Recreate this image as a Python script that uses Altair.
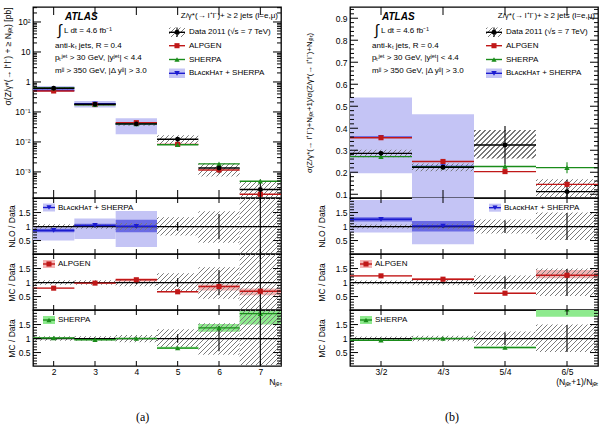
import math
import altair as alt
import pandas as pd

# ======================= (a) inclusive cross sections vs N_jet =======================
njet = [2, 3, 4, 5, 6, 7]
data_a = [0.62, 0.18, 0.040, 0.0123, 0.00135, 0.00026]
data_a_stat_lo = [0.60, 0.175, 0.038, 0.0105, 0.00091, 0.0001]
data_a_stat_hi = [0.64, 0.185, 0.042, 0.0141, 0.0020, 0.00056]
data_a_sys_lo = [0.57, 0.166, 0.035, 0.0086, 0.0007, 0.0001]
data_a_sys_hi = [0.67, 0.195, 0.045, 0.0166, 0.00195, 0.00048]
alpgen_a = [0.50, 0.176, 0.044, 0.0083, 0.00116, 0.00018]
sherpa_a = [0.63, 0.173, 0.040, 0.0081, 0.00186, 0.00049]
bh_a = [0.53, 0.187, 0.040]
bh_a_lo = [0.47, 0.14, 0.018]
bh_a_hi = [0.74, 0.23, 0.062]

# ratios to data (a)
ra_sys_lo = [0.92, 0.92, 0.87, 0.68, 0.42, 0.0]
ra_sys_hi = [1.08, 1.08, 1.13, 1.33, 1.55, 2.1]
ra_stat_lo = [0.98, 0.97, 0.95, 0.85, 0.55, 0.0]
ra_stat_hi = [1.02, 1.03, 1.05, 1.15, 1.45, 2.1]
ra_bh = [0.86, 1.04, 1.01]
ra_bh_lo = [0.50, 0.56, 0.27]
ra_bh_hi = [0.98, 1.29, 1.56]
ra_bh_in_lo = [0.80, 0.98, 0.80]
ra_bh_in_hi = [0.92, 1.10, 1.24]
ra_alp = [0.80, 0.98, 1.10, 0.67, 0.86, 0.69]
ra_alp_lo = [0.78, 0.96, 1.04, 0.65, 0.72, 0.55]
ra_alp_hi = [0.82, 1.00, 1.15, 0.69, 0.93, 0.79]
ra_she = [1.02, 0.96, 1.00, 0.66, 1.38, 1.89]
ra_she_lo = [1.00, 0.94, 0.98, 0.63, 1.24, 1.50]
ra_she_hi = [1.04, 0.98, 1.02, 0.71, 1.52, 1.98]

# ======================= (b) ratio (N+1)/N =======================
nb = [1, 2, 3, 4]
nb_labels = ["3/2", "4/3", "5/4", "6/5"]
data_b = [0.286, 0.223, 0.324, 0.112]
data_b_stat_lo = [0.278, 0.214, 0.236, 0.058]
data_b_stat_hi = [0.294, 0.232, 0.410, 0.166]
data_b_sys_lo = [0.268, 0.205, 0.262, 0.060]
data_b_sys_hi = [0.302, 0.240, 0.392, 0.168]
alpgen_b = [0.357, 0.249, 0.203, 0.145]
sherpa_b = [0.271, 0.224, 0.226, 0.221]
sherpa_b_lo = [0.266, 0.219, 0.216, 0.196]
sherpa_b_hi = [0.276, 0.229, 0.236, 0.246]
bh_b = [0.359, 0.226]
bh_b_lo = [0.195, 0.05]
bh_b_hi = [0.54, 0.464]

rb_sys_lo = [0.93, 0.90, 0.75, 0.52]
rb_sys_hi = [1.07, 1.10, 1.25, 1.50]
rb_stat_lo = [0.97, 0.96, 0.77, 0.52]
rb_stat_hi = [1.03, 1.04, 1.22, 1.48]
rb_bh = [1.26, 1.02]
rb_bh_lo = [0.79, 0.37]
rb_bh_hi = [1.95, 2.10]
rb_bh_in_lo = [1.18, 0.82]
rb_bh_in_hi = [1.33, 1.20]
rb_alp = [1.24, 1.12, 0.62, 1.26]
rb_alp_lo = [1.22, 1.08, 0.60, 1.15]
rb_alp_hi = [1.26, 1.16, 0.64, 1.45]
rb_she = [0.94, 1.00, 0.68, 2.05]
rb_she_lo = [0.92, 0.98, 0.65, 1.78]
rb_she_hi = [0.96, 1.02, 0.71, 2.30]

log_tick_values = [1e-3, 1e-2, 1e-1, 1, 10, 100]
log_tick_labels = ["10⁻³", "10⁻²", "10⁻¹", "1", "10", "10²"]
lin_b_ticks = [0.1, 0.2, 0.3, 0.4, 0.5, 0.6, 0.7, 0.8, 0.9]
ratio_ticks = [0.5, 1, 1.5]

# ======================= style / layout =======================
W = 248
H_TOP = 191
H_R = 56
XA = [1.5, 7.5]
XB = [0.5, 4.5]
YA = [1.35e-4, 316.0]
YB = [0.083, 0.951]
YR = [0.02, 2.02]
FONT = "Liberation Sans"
HATCH = "#7a7a7a"
RED = "#c01818"
RED_L = "#f5b5b5"
GREEN = "#1a8c1a"
GREEN_L = "#8eea8e"
BLUE = "#1c1cd0"
BLUE_L = "#c4c4f5"
BLUE_D = "#6a6ae4"
ONE = pd.DataFrame({"k": [0]})


def hatch_fill(w, h, period=5.0, lw=1.2):
    w = max(w, 1.0)
    h = max(h, 1.0)
    L = w + h
    a = L / (w * w + h * h)
    clear = "rgba(255,255,255,0)"
    stops = [alt.GradientStop(offset=0, color=clear)]
    c = 1.5
    while c - lw / 2 < L:
        s = round(min(max(0.0, (c - lw / 2) / L), 1.0), 4)
        e = round(min(1.0, (c + lw / 2) / L), 4)
        stops += [alt.GradientStop(offset=s, color=clear),
                  alt.GradientStop(offset=s, color=HATCH),
                  alt.GradientStop(offset=e, color=HATCH),
                  alt.GradientStop(offset=e, color=clear)]
        c += period
    stops.append(alt.GradientStop(offset=1, color=clear))
    return alt.LinearGradient(gradient="linear", stops=stops, x1=0, y1=0,
                              x2=round(a * w, 4), y2=round(a * h, 4))


class Panel:
    def __init__(self, H, xdom, ydom, log=False, xaxis=None, yaxis=None):
        self.W, self.H, self.xdom, self.ydom, self.log = W, H, xdom, ydom, log
        self.xaxis, self.yaxis = xaxis, yaxis
        self.xs = alt.Scale(domain=xdom, zero=False, nice=False)
        if log:
            self.ys = alt.Scale(type="log", domain=ydom, nice=False)
        else:
            self.ys = alt.Scale(domain=ydom, zero=False, nice=False)
        self.layers = []

    def X(self, f):
        return alt.X(f, type="quantitative", scale=self.xs, axis=self.xaxis)

    def Y(self, f):
        return alt.Y(f, type="quantitative", scale=self.ys, axis=self.yaxis)

    def clampy(self, v):
        return min(max(v, self.ydom[0]), self.ydom[1])

    def ypix(self, v):
        d = self.ydom
        if self.log:
            lo, hi = math.log10(d[0]), math.log10(d[1])
            return self.H * (hi - math.log10(v)) / (hi - lo)
        return self.H * (d[1] - v) / (d[1] - d[0])

    def band(self, x, lo, hi, color, opacity=1.0):
        df = pd.DataFrame({"x0": [v - 0.5 for v in x], "x1": [v + 0.5 for v in x],
                           "lo": [self.clampy(v) for v in lo], "hi": [self.clampy(v) for v in hi]})
        self.layers.append(alt.Chart(df).mark_rect(color=color, opacity=opacity, clip=True).encode(
            x=self.X("x0"), x2="x1", y=self.Y("lo"), y2="hi"))

    def hatch(self, x, lo, hi):
        wpx = self.W / (self.xdom[1] - self.xdom[0])
        for xi, l, h in zip(x, lo, hi):
            l, h = self.clampy(l), self.clampy(h)
            hpx = self.ypix(l) - self.ypix(h)
            df = pd.DataFrame({"x0": [xi - 0.5], "x1": [xi + 0.5], "lo": [l], "hi": [h]})
            self.layers.append(alt.Chart(df).mark_rect(fill=hatch_fill(wpx, hpx), strokeWidth=0).encode(
                x=self.X("x0"), x2="x1", y=self.Y("lo"), y2="hi"))

    def hlines(self, x, v, color, sw=1.4):
        df = pd.DataFrame({"x0": [a - 0.5 for a in x], "x1": [a + 0.5 for a in x], "v": v})
        self.layers.append(alt.Chart(df).mark_rule(color=color, strokeWidth=sw, clip=True).encode(
            x=self.X("x0"), x2="x1", y=self.Y("v")))

    def vbars(self, x, lo, hi, color="black"):
        df = pd.DataFrame({"x": x, "lo": [self.clampy(v) for v in lo], "hi": [self.clampy(v) for v in hi]})
        self.layers.append(alt.Chart(df).mark_rule(color=color, strokeWidth=1.1, clip=True).encode(
            x=self.X("x"), y=self.Y("lo"), y2="hi"))

    def points(self, x, v, shape, color, size=24):
        df = pd.DataFrame({"x": x, "v": v})
        self.layers.append(alt.Chart(df).mark_point(shape=shape, filled=True, color=color, size=size,
                                                    opacity=1, clip=True).encode(
            x=self.X("x"), y=self.Y("v")))

    def unity(self):
        df = pd.DataFrame({"v": [1.0]})
        self.layers.append(alt.Chart(df).mark_rule(color="black", strokeWidth=1.2).encode(y=self.Y("v")))

    def frame_ticks(self, xmaj, ymaj, ymin, xlen):
        for vals, size in ((ymaj, 8), (ymin, 4)):
            df = pd.DataFrame({"v": vals})
            for x0, x1 in ((0, size), (self.W - size, self.W)):
                self.layers.append(alt.Chart(df).mark_rule(color="black", strokeWidth=1, clip=True).encode(
                    y=self.Y("v"), x=alt.value(x0), x2=alt.value(x1)))
        df = pd.DataFrame({"v": xmaj})
        for y0, y1 in ((0, xlen), (self.H - xlen, self.H)):
            self.layers.append(alt.Chart(df).mark_rule(color="black", strokeWidth=1, clip=True).encode(
                x=self.X("v"), y=alt.value(y0), y2=alt.value(y1)))

    def text(self, s, px, py, size=8, align="left", weight="normal", style="normal", font=FONT):
        self.layers.append(alt.Chart(ONE).mark_text(text=s, align=align, baseline="middle", fontSize=size,
                                                    fontWeight=weight, fontStyle=style, font=font,
                                                    color="black").encode(
            x=alt.value(px), y=alt.value(py)))

    def lg_rect(self, x0, x1, y0, y1, fill):
        self.layers.append(alt.Chart(ONE).mark_rect(fill=fill, strokeWidth=0).encode(
            x=alt.value(x0), x2=alt.value(x1), y=alt.value(y0), y2=alt.value(y1)))

    def lg_line(self, x0, x1, y, color):
        self.layers.append(alt.Chart(ONE).mark_rule(color=color, strokeWidth=1.4).encode(
            x=alt.value(x0), x2=alt.value(x1), y=alt.value(y)))

    def lg_vline(self, x, y0, y1):
        self.layers.append(alt.Chart(ONE).mark_rule(color="black", strokeWidth=1.1).encode(
            x=alt.value(x), y=alt.value(y0), y2=alt.value(y1)))

    def lg_point(self, x, y, shape, color, size=22):
        self.layers.append(alt.Chart(ONE).mark_point(shape=shape, filled=True, color=color, size=size,
                                                     opacity=1).encode(x=alt.value(x), y=alt.value(y)))

    def chart(self):
        return alt.layer(*self.layers).properties(width=self.W, height=self.H)


def main_legend(p):
    p.text("ATLAS", 32, 10, size=10, weight="bold", style="italic")
    p.text("∫", 26.5, 23, size=15, align="center")
    p.text("L dt = 4.6 fb⁻¹", 31, 24, size=8)
    p.text("anti-kₜ jets, R = 0.4", 22, 38.5, size=8)
    p.text("pₜʲᵉᵗ > 30 GeV, |yʲᵉᵗ| < 4.4", 22, 51, size=8)
    p.text("mʲʲ > 350 GeV, |Δ yʲʲ| > 3.0", 22, 63.5, size=8)
    p.text("Z/γ*(→ l⁺l⁻)+ ≥ 2 jets (l=e,μ)", 245, 9, size=8, align="right")
    p.lg_rect(136, 152, 20.5, 30, hatch_fill(16, 9.5))
    p.lg_line(136, 152, 25.3, "black")
    p.lg_vline(144, 20.5, 30)
    p.lg_point(144, 25.3, "circle", "black", 24)
    p.text("Data 2011 (√s = 7 TeV)", 156, 25.3, size=8)
    p.lg_line(136, 152, 38.7, RED)
    p.lg_point(144, 38.7, "square", RED, 26)
    p.text("ALPGEN", 156, 38.7, size=8)
    p.lg_line(136, 152, 52.5, GREEN)
    p.lg_point(144, 52.5, "triangle-up", GREEN, 28)
    p.text("SHERPA", 156, 52.5, size=8)
    p.lg_rect(136, 152, 61.5, 71, BLUE_L)
    p.lg_line(136, 152, 66.3, BLUE)
    p.lg_point(144, 66.3, "triangle-down", BLUE, 30)
    p.text("BʟᴀᴄᴋHᴀᴛ + SHERPA", 156, 66.3, size=8)


def ratio_legend(p, x0, y, label, fillc, linec, shape):
    p.lg_rect(x0, x0 + 12, y - 4, y + 4, fillc)
    p.lg_line(x0, x0 + 12, y, linec)
    p.lg_point(x0 + 6, y, shape, linec, 26)
    p.text(label, x0 + 15, y, size=8)


def log_minors():
    out = []
    for e in range(-4, 3):
        for m in range(2, 10):
            v = m * 10 ** e
            if YA[0] <= v <= YA[1]:
                out.append(v)
    return out


lin_b_minor = [round(0.1 + 0.02 * i, 3) for i in range(0, 43) if (i % 5) != 0]
ratio_minor = [round(0.1 * i, 2) for i in range(1, 21) if i not in (5, 10, 15)]

log_expr = " : ".join(
    f"datum.value >= {v * 0.9} ? '{l}'" for v, l in zip(reversed(log_tick_values), reversed(log_tick_labels))
) + " : ''"
nb_expr = "[" + ",".join(f"'{s}'" for s in nb_labels) + "][datum.value - 1]"


def ratio_axis(title, pad):
    return alt.Axis(values=ratio_ticks, format="~g", title=title, titlePadding=pad, labelPadding=3)


# ======================= column (a) =======================
pa = Panel(H_TOP, XA, YA, log=True,
           yaxis=alt.Axis(values=log_tick_values, labelExpr=log_expr,
                          title="σ(Z/γ*(→ l⁺l⁻) + ≥ Nⱼₑₜ) [pb]",
                          titleAnchor="end", titlePadding=2, labelPadding=3))
pa.band(njet[:3], bh_a_lo, bh_a_hi, BLUE_L)
pa.hatch(njet, data_a_sys_lo, data_a_sys_hi)
pa.hlines(njet[:3], bh_a, BLUE)
pa.hlines(njet, alpgen_a, RED)
pa.hlines(njet, sherpa_a, GREEN)
pa.hlines(njet, data_a, "black")
pa.vbars(njet, data_a_stat_lo, data_a_stat_hi)
pa.points(njet[:3], bh_a, "triangle-down", BLUE, 30)
pa.points(njet, alpgen_a, "square", RED, 26)
pa.points(njet, sherpa_a, "triangle-up", GREEN, 28)
pa.points(njet, data_a, "circle", "black", 24)
pa.frame_ticks(njet, log_tick_values, log_minors(), 8)
main_legend(pa)

a1 = Panel(H_R, XA, YR, yaxis=ratio_axis("NLO / Data", 2))
a1.band(njet[:3], ra_bh_lo, ra_bh_hi, BLUE_L)
a1.band(njet[:3], ra_bh_in_lo, ra_bh_in_hi, BLUE_D)
a1.hatch(njet, ra_sys_lo, ra_sys_hi)
a1.unity()
a1.vbars(njet, ra_stat_lo, ra_stat_hi)
a1.hlines(njet[:3], ra_bh, BLUE)
a1.points(njet[:3], ra_bh, "triangle-down", BLUE, 30)
a1.frame_ticks(njet, ratio_ticks, ratio_minor, 5)
ratio_legend(a1, 10, 9.5, "BʟᴀᴄᴋHᴀᴛ + SHERPA", BLUE_L, BLUE, "triangle-down")

a2 = Panel(H_R, XA, YR, yaxis=ratio_axis("MC / Data", 2))
a2.band(njet, ra_alp_lo, ra_alp_hi, RED_L)
a2.hatch(njet, ra_sys_lo, ra_sys_hi)
a2.unity()
a2.vbars(njet, ra_stat_lo, ra_stat_hi)
a2.hlines(njet, ra_alp, RED)
a2.points(njet, ra_alp, "square", RED, 26)
a2.frame_ticks(njet, ratio_ticks, ratio_minor, 5)
ratio_legend(a2, 10, 10, "ALPGEN", RED_L, RED, "square")

a3 = Panel(H_R, XA, YR,
           xaxis=alt.Axis(values=njet, format="d", title="Nⱼₑₜ", titleAnchor="end", titleAlign="right",
                          labelPadding=1, titlePadding=2),
           yaxis=ratio_axis("MC / Data", 2))
a3.band(njet, ra_she_lo, ra_she_hi, GREEN_L)
a3.hatch(njet, ra_sys_lo, ra_sys_hi)
a3.unity()
a3.vbars(njet, ra_stat_lo, ra_stat_hi)
a3.hlines(njet, ra_she, GREEN)
a3.points(njet, ra_she, "triangle-up", GREEN, 28)
a3.frame_ticks(njet, ratio_ticks, ratio_minor, 5)
ratio_legend(a3, 10, 10, "SHERPA", GREEN_L, GREEN, "triangle-up")

# ======================= column (b) =======================
pb = Panel(H_TOP, XB, YB,
           yaxis=alt.Axis(values=lin_b_ticks, format=".1f",
                          title="σ(Z/γ*(→ l⁺l⁻)+Nⱼₑₜ+1)/σ(Z/γ*(→ l⁺l⁻)+Nⱼₑₜ)",
                          titleFontSize=7.8, titlePadding=22, labelPadding=3))
pb.band(nb[:2], bh_b_lo, bh_b_hi, BLUE_L)
pb.hatch(nb, data_b_sys_lo, data_b_sys_hi)
pb.hlines(nb[:2], bh_b, BLUE)
pb.hlines(nb, alpgen_b, RED)
pb.hlines(nb, sherpa_b, GREEN)
pb.hlines(nb, data_b, "black")
pb.vbars(nb, sherpa_b_lo, sherpa_b_hi, GREEN)
pb.vbars(nb, data_b_stat_lo, data_b_stat_hi)
pb.points(nb[:2], bh_b, "triangle-down", BLUE, 30)
pb.points(nb, alpgen_b, "square", RED, 26)
pb.points(nb, sherpa_b, "triangle-up", GREEN, 28)
pb.points(nb, data_b, "circle", "black", 24)
pb.frame_ticks(nb, lin_b_ticks, lin_b_minor, 8)
main_legend(pb)

b1 = Panel(H_R, XB, YR, yaxis=ratio_axis("NLO / Data", 9))
b1.band(nb[:2], rb_bh_lo, rb_bh_hi, BLUE_L)
b1.band(nb[:2], rb_bh_in_lo, rb_bh_in_hi, BLUE_D)
b1.hatch(nb, rb_sys_lo, rb_sys_hi)
b1.unity()
b1.vbars(nb, rb_stat_lo, rb_stat_hi)
b1.hlines(nb[:2], rb_bh, BLUE)
b1.points(nb[:2], rb_bh, "triangle-down", BLUE, 30)
b1.frame_ticks(nb, ratio_ticks, ratio_minor, 5)
ratio_legend(b1, 139, 9.7, "BʟᴀᴄᴋHᴀᴛ + SHERPA", BLUE_L, BLUE, "triangle-down")

b2 = Panel(H_R, XB, YR, yaxis=ratio_axis("MC / Data", 9))
b2.band(nb, rb_alp_lo, rb_alp_hi, RED_L)
b2.hatch(nb, rb_sys_lo, rb_sys_hi)
b2.unity()
b2.vbars(nb, rb_stat_lo, rb_stat_hi)
b2.hlines(nb, rb_alp, RED)
b2.points(nb, rb_alp, "square", RED, 26)
b2.frame_ticks(nb, ratio_ticks, ratio_minor, 5)
ratio_legend(b2, 10, 10, "ALPGEN", RED_L, RED, "square")

b3 = Panel(H_R, XB, YR,
           xaxis=alt.Axis(values=nb, labelExpr=nb_expr, title="(Nⱼₑₜ+1)/Nⱼₑₜ", titleAnchor="end",
                          titleAlign="right", labelPadding=1, titlePadding=2),
           yaxis=ratio_axis("MC / Data", 9))
b3.band(nb, rb_she_lo, rb_she_hi, GREEN_L)
b3.hatch(nb, rb_sys_lo, rb_sys_hi)
b3.unity()
b3.vbars(nb, rb_stat_lo, rb_stat_hi)
b3.hlines(nb, rb_she, GREEN)
b3.points(nb, rb_she, "triangle-up", GREEN, 28)
b3.frame_ticks(nb, ratio_ticks, ratio_minor, 5)
ratio_legend(b3, 10, 10, "SHERPA", GREEN_L, GREEN, "triangle-up")


def col_title(s):
    return alt.TitleParams(text=s, orient="bottom", anchor="middle", font="Liberation Serif",
                           fontSize=12, fontWeight="normal", offset=25, color="black")


colA = alt.vconcat(pa.chart(), a1.chart(), a2.chart(), a3.chart(), spacing=0, bounds="flush",
                   title=col_title("(a)"))
colB = alt.vconcat(pb.chart(), b1.chart(), b2.chart(), b3.chart(), spacing=0, bounds="flush",
                   title=col_title("(b)"))

chart = alt.hconcat(colA, colB, spacing=21).properties(
    padding={"left": 3, "top": 6, "right": 2, "bottom": 2}, background="white"
).configure(font=FONT).configure_view(
    stroke="black", strokeWidth=1.3
).configure_axis(
    labelFont=FONT, titleFont=FONT, labelFontSize=8.5, titleFontSize=8.5, titleFontWeight="normal",
    labelColor="black", titleColor="black", grid=False, ticks=False, domain=False
)

chart.save("out.html", embed_options={"renderer": "svg", "actions": False})
